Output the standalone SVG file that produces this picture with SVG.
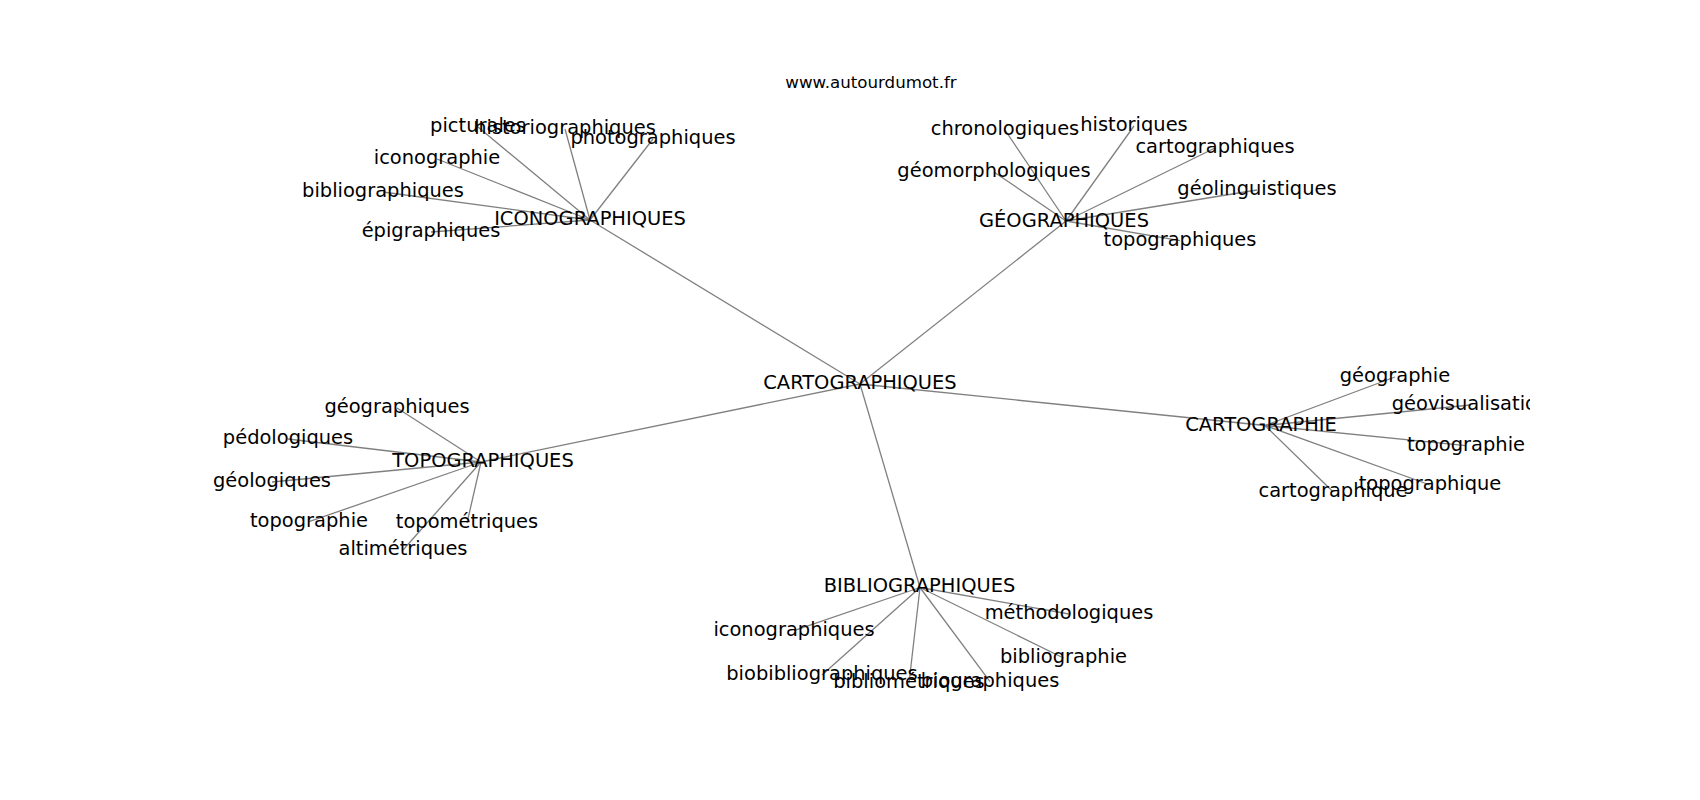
<svg xmlns="http://www.w3.org/2000/svg" width="1700" height="800" viewBox="0 0 1700 800">
<style>
.e{stroke:#808080;stroke-width:1.3;fill:none}
.n text{font-family:"DejaVu Sans",sans-serif;font-size:19.44px;fill:#000;text-anchor:middle}
.t{font-family:"DejaVu Sans",sans-serif;font-size:16.67px;fill:#000;text-anchor:middle}
</style>
<defs>
<clipPath id="ax"><rect x="212.5" y="96" width="1317.5" height="616"/></clipPath>
</defs>
<rect width="1700" height="800" fill="#fff"/>
<text class="t" x="871" y="88">www.autourdumot.fr</text>
<g clip-path="url(#ax)">
<g id="edges">
<line class="e" x1="860" y1="384" x2="590" y2="220"/>
<line class="e" x1="860" y1="384" x2="1066" y2="221"/>
<line class="e" x1="860" y1="384" x2="481" y2="462"/>
<line class="e" x1="860" y1="384" x2="1265" y2="425.5"/>
<line class="e" x1="860" y1="384" x2="920" y2="587.5"/>
<line class="e" x1="590" y1="220" x2="478" y2="127"/>
<line class="e" x1="590" y1="220" x2="565" y2="129"/>
<line class="e" x1="590" y1="220" x2="653" y2="139"/>
<line class="e" x1="590" y1="220" x2="437" y2="159"/>
<line class="e" x1="590" y1="220" x2="383" y2="192"/>
<line class="e" x1="590" y1="220" x2="431" y2="232"/>
<line class="e" x1="1066" y1="221" x2="1005" y2="130"/>
<line class="e" x1="1066" y1="221" x2="1134" y2="126"/>
<line class="e" x1="1066" y1="221" x2="1215" y2="148"/>
<line class="e" x1="1066" y1="221" x2="994" y2="172"/>
<line class="e" x1="1066" y1="221" x2="1257" y2="190"/>
<line class="e" x1="1066" y1="221" x2="1180" y2="240.7"/>
<line class="e" x1="481" y1="462" x2="397" y2="408"/>
<line class="e" x1="481" y1="462" x2="288" y2="439"/>
<line class="e" x1="481" y1="462" x2="272" y2="482"/>
<line class="e" x1="481" y1="462" x2="309" y2="521.7"/>
<line class="e" x1="481" y1="462" x2="467" y2="523"/>
<line class="e" x1="481" y1="462" x2="403" y2="550"/>
<line class="e" x1="1265" y1="425.5" x2="1395" y2="377"/>
<line class="e" x1="1265" y1="425.5" x2="1470.5" y2="405"/>
<line class="e" x1="1265" y1="425.5" x2="1466" y2="445.7"/>
<line class="e" x1="1265" y1="425.5" x2="1430" y2="485"/>
<line class="e" x1="1265" y1="425.5" x2="1333" y2="491.7"/>
<line class="e" x1="920" y1="587.5" x2="1069" y2="614"/>
<line class="e" x1="920" y1="587.5" x2="794" y2="630.7"/>
<line class="e" x1="920" y1="587.5" x2="1063.5" y2="658"/>
<line class="e" x1="920" y1="587.5" x2="822" y2="675"/>
<line class="e" x1="920" y1="587.5" x2="909" y2="683"/>
<line class="e" x1="920" y1="587.5" x2="990" y2="681.7"/>
</g>
<g id="n-cartographiques" class="n"><text x="860" y="389">CARTOGRAPHIQUES</text></g>
<g id="n-iconographiques" class="n"><text x="590" y="225">ICONOGRAPHIQUES</text></g>
<g id="n-geographiques" class="n"><text x="1064" y="226.7">GÉOGRAPHIQUES</text></g>
<g id="n-topographiques" class="n"><text x="483" y="467">TOPOGRAPHIQUES</text></g>
<g id="n-cartographie" class="n"><text x="1261" y="430.7">CARTOGRAPHIE</text></g>
<g id="n-bibliographiques" class="n"><text x="919.5" y="592.3">BIBLIOGRAPHIQUES</text></g>
<g id="n-picturales" class="n"><text x="478" y="132">picturales</text></g>
<g id="n-historiographiques" class="n"><text x="565" y="134.3">historiographiques</text></g>
<g id="n-photographiques" class="n"><text x="653" y="144">photographiques</text></g>
<g id="n-iconographie" class="n"><text x="437" y="164">iconographie</text></g>
<g id="n-bibliographiques2" class="n"><text x="383" y="196.7">bibliographiques</text></g>
<g id="n-epigraphiques" class="n"><text x="431" y="237">épigraphiques</text></g>
<g id="n-chronologiques" class="n"><text x="1005" y="135">chronologiques</text></g>
<g id="n-historiques" class="n"><text x="1134" y="130.7">historiques</text></g>
<g id="n-cartographiques2" class="n"><text x="1215" y="153">cartographiques</text></g>
<g id="n-geomorphologiques" class="n"><text x="994" y="177">géomorphologiques</text></g>
<g id="n-geolinguistiques" class="n"><text x="1257" y="195">géolinguistiques</text></g>
<g id="n-topographiques2" class="n"><text x="1180" y="245.7">topographiques</text></g>
<g id="n-geographiques2" class="n"><text x="397" y="413">géographiques</text></g>
<g id="n-pedologiques" class="n"><text x="288" y="444">pédologiques</text></g>
<g id="n-geologiques" class="n"><text x="272" y="486.7">géologiques</text></g>
<g id="n-topographie" class="n"><text x="309" y="526.7">topographie</text></g>
<g id="n-topometriques" class="n"><text x="467" y="528.3">topométriques</text></g>
<g id="n-altimetriques" class="n"><text x="403" y="555">altimétriques</text></g>
<g id="n-geographie" class="n"><text x="1395" y="382">géographie</text></g>
<g id="n-geovisualisation" class="n"><text x="1470.5" y="410">géovisualisation</text></g>
<g id="n-topographie2" class="n"><text x="1466" y="450.7">topographie</text></g>
<g id="n-topographique" class="n"><text x="1430" y="490">topographique</text></g>
<g id="n-cartographique" class="n"><text x="1333" y="496.7">cartographique</text></g>
<g id="n-methodologiques" class="n"><text x="1069" y="619">méthodologiques</text></g>
<g id="n-iconographiques2" class="n"><text x="794" y="635.7">iconographiques</text></g>
<g id="n-bibliographie" class="n"><text x="1063.5" y="663">bibliographie</text></g>
<g id="n-biobibliographiques" class="n"><text x="822" y="680">biobibliographiques</text></g>
<g id="n-bibliometriques" class="n"><text x="909" y="688">bibliométriques</text></g>
<g id="n-biographiques" class="n"><text x="990" y="686.7">biographiques</text></g>
</g>
</svg>
